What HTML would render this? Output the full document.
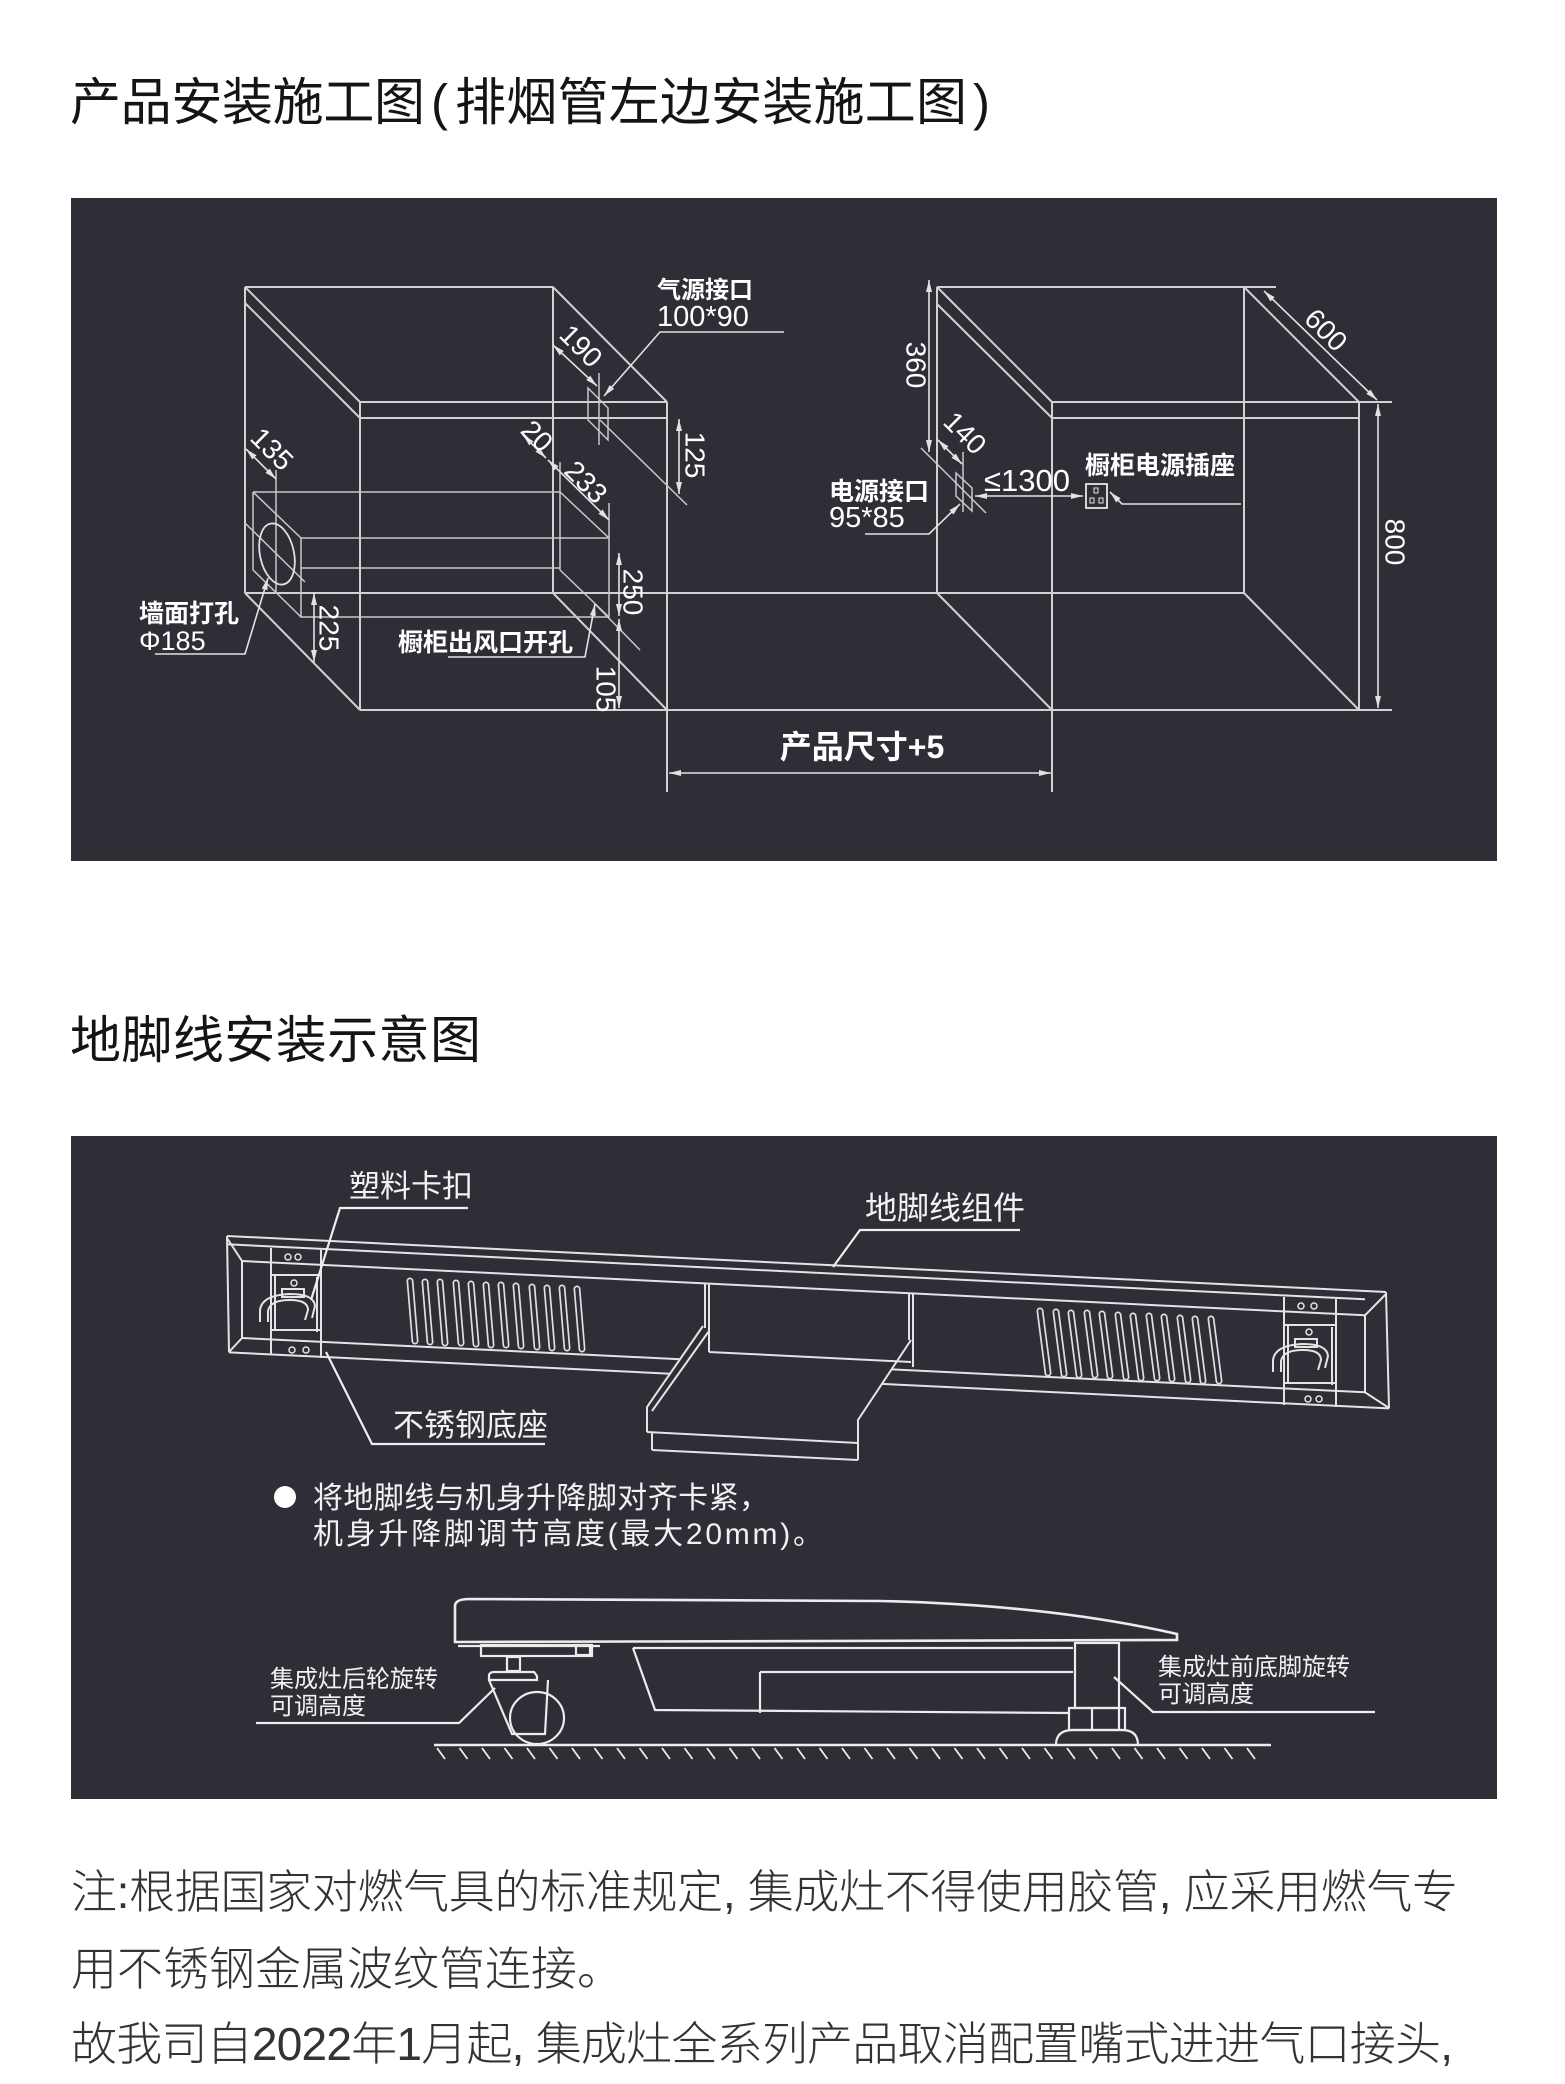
<!DOCTYPE html>
<html><head><meta charset="utf-8">
<style>
html,body{margin:0;padding:0;background:#fff;}
svg{display:block;}
text{font-family:"Liberation Sans","Noto Sans CJK SC",sans-serif;}
</style></head><body>
<svg width="1565" height="2084" viewBox="0 0 1565 2084" xmlns="http://www.w3.org/2000/svg">
<defs>
<marker id="a" viewBox="0 0 12 6" refX="12" refY="3" markerWidth="12" markerHeight="6" markerUnits="userSpaceOnUse" orient="auto-start-reverse"><path d="M0,0 L12,3 L0,6 z" fill="#e2e2e2"/></marker>
</defs>
<rect width="1565" height="2084" fill="#fff"/>

<!-- Title 1 -->
<text font-size="51" fill="#141414" y="120"><tspan x="70" textLength="355" lengthAdjust="spacing">产品安装施工图</tspan><tspan x="431">(</tspan><tspan x="455" textLength="512" lengthAdjust="spacing">排烟管左边安装施工图</tspan><tspan x="973">)</tspan></text>

<!-- Panel 1 -->
<rect x="71" y="198" width="1426" height="663" fill="#2e2e36"/>

<g stroke="#d2d2d2" stroke-width="2" fill="none">
<path d="M245,287H553 M245,287V593 M553,287V593 M245,593H1244 M245,287L360,402 M245,303L360,418 M360,402H667 M360,418H667 M360,402V710 M667,402V792 M360,710H1392 M245,593L360,710 M553,593L667,710 M553,287L667,402"/>
<path d="M937,287H1276 M937,287V593 M1244,287V593 M937,287L1052,402 M937,304L1052,418 M1052,402H1392 M1052,418H1359 M1052,402V792 M1359,402V710 M937,593L1052,710 M1244,593L1359,710 M1244,287L1359,402"/>
</g>
<g stroke="#c8c8c8" stroke-width="1.5" fill="none">
<path d="M253,492H560V570 M253,492V570 M253,492L301,538H609V617H301V538 M560,492L609,538 M253,570L301,617 M301,568H560 M560,570L609,617"/>
<path d="M276,470V592 M245,523L305,582 M594,603L640,650 M599,373V445 M600,420L687,505 M921,448L986,513 M963,452V512 M560,462V492 M609,503V538"/>
<path d="M588,388L608,408V440L588,420Z M956,473L972,488V511L956,496Z"/>
<ellipse cx="277" cy="554" rx="17" ry="31" transform="rotate(-12 277 554)" stroke="#e0e0e0" stroke-width="1.8"/>
<rect x="1086" y="484" width="21" height="24" stroke="#e6e6e6" stroke-width="1.8"/>
<rect x="1094" y="488" width="4" height="5" stroke="#e6e6e6" stroke-width="1"/>
<rect x="1090" y="498" width="4" height="5" stroke="#e6e6e6" stroke-width="1"/>
<rect x="1099" y="498" width="4" height="5" stroke="#e6e6e6" stroke-width="1"/>
</g>

<!-- dimension lines -->
<g stroke="#e2e2e2" stroke-width="1.6" fill="none" marker-start="url(#a)" marker-end="url(#a)">
<line x1="246" y1="449" x2="276" y2="479"/>
<line x1="314" y1="593" x2="314" y2="662"/>
<line x1="523" y1="435" x2="546" y2="458"/>
<line x1="548" y1="460" x2="609" y2="520"/>
<line x1="553" y1="345" x2="597" y2="386"/>
<line x1="679" y1="419" x2="679" y2="494"/>
<line x1="619" y1="553" x2="619" y2="616"/>
<line x1="619" y1="619" x2="619" y2="708"/>
<line x1="929" y1="280" x2="929" y2="452"/>
<line x1="938" y1="440" x2="962" y2="464"/>
<line x1="975" y1="496" x2="1083" y2="496"/>
<line x1="1264" y1="291" x2="1377" y2="400"/>
<line x1="1378" y1="404" x2="1378" y2="708"/>
<line x1="669" y1="773" x2="1051" y2="773"/>
</g>
<!-- leaders -->
<g stroke="#e2e2e2" stroke-width="1.6" fill="none" marker-end="url(#a)">
<path d="M155,654H245L268,578"/>
<path d="M448,657H585L595,604"/>
<path d="M784,332H660L604,396"/>
<path d="M865,534H929L960,504"/>
<path d="M1241,504H1122L1110,492"/>
</g>

<!-- top labels -->
<g fill="#ffffff">
<text x="657" y="298" font-size="24" font-weight="bold">气源接口</text>
<text x="657" y="326" font-size="29">100*90</text>
<text x="829" y="500" font-size="25" font-weight="bold">电源接口</text>
<text x="829" y="527" font-size="29">95*85</text>
<text x="1085" y="474" font-size="25" font-weight="bold">橱柜电源插座</text>
<text x="984" y="491" font-size="31">≤1300</text>
<text x="139" y="622" font-size="25" font-weight="bold">墙面打孔</text>
<text x="139" y="650" font-size="27">Φ185</text>
<text x="398" y="651" font-size="25" font-weight="bold">橱柜出风口开孔</text>
<text x="862" y="758" font-size="32" font-weight="bold" text-anchor="middle">产品尺寸+5</text>
</g>
<g fill="#ffffff" font-size="28" text-anchor="middle" dominant-baseline="central">
<text transform="translate(272,449) rotate(45)">135</text>
<text transform="translate(537,436) rotate(45)">20</text>
<text transform="translate(586,482) rotate(45)">233</text>
<text transform="translate(581,346) rotate(45)">190</text>
<text transform="translate(1326,330) rotate(45)">600</text>
<text transform="translate(965,433) rotate(45)">140</text>
<text transform="translate(695,455) rotate(90)">125</text>
<text transform="translate(633,592) rotate(90)">250</text>
<text transform="translate(606,689) rotate(90)">105</text>
<text transform="translate(329,628) rotate(90)">225</text>
<text transform="translate(916,365) rotate(90)">360</text>
<text transform="translate(1395,542) rotate(90)">800</text>
</g>

<!-- Title 2 -->
<text x="70" y="1058" font-size="51" fill="#141414" textLength="411" lengthAdjust="spacing">地脚线安装示意图</text>

<!-- Panel 2 -->
<rect x="71" y="1136" width="1426" height="663" fill="#2e2e36"/>

<g stroke="#e4e4e4" stroke-width="2" fill="none">
<path d="M227,1236L1386,1292 M227,1244.3L1365,1299.3 M242,1261L1365,1315.3 M242,1338L680,1359.2 M892,1369.4L1365,1392.3 M229,1352.4L670,1373.7 M882,1383.9L1389,1408.4"/>
<path d="M227,1236L229,1352.4 M242,1261V1338 M227,1238L242,1261 M229,1352L242,1338"/>
<path d="M1386,1292L1389,1408.4 M1365,1315.3V1392.3 M1386,1294L1365,1315.3 M1389,1408L1365,1392.3"/>
<path d="M271,1248V1355 M321,1250V1358 M275,1275V1330 M317,1277V1332 M271,1275H321 M271,1330H321"/>
<path d="M1284,1297V1405 M1336,1299V1407 M1288,1325V1383 M1332,1327V1385 M1284,1325H1336 M1284,1383H1336"/>
<path d="M260,1322V1310Q262,1295 290,1294Q314,1294 315,1306L312,1318 M268,1322V1311Q270,1300 290,1300Q308,1300 308,1310L305,1320 M282,1289H304V1297H282Z"/>
<path d="M1273,1372V1360Q1275,1345 1303,1344Q1327,1344 1328,1356L1325,1368 M1281,1372V1361Q1283,1350 1303,1350Q1321,1350 1321,1360L1318,1370 M1295,1339H1317V1347H1295Z"/>
<path d="M705,1283V1328 M709,1284V1352 M909,1293V1340 M913,1294V1367 M703,1326L647,1407V1432 M709,1331L652,1411 M911,1340L858,1420V1460 M647,1432L858,1443 M652,1450L858,1460 M652,1432V1450 M709,1352L911,1362"/>
</g>
<g stroke="#e4e4e4" stroke-width="1.5" fill="none">
<circle cx="288" cy="1257" r="3"/><circle cx="298" cy="1257" r="3"/><circle cx="294" cy="1283" r="3"/><circle cx="292" cy="1350" r="3"/><circle cx="306" cy="1350" r="3"/>
<circle cx="1301" cy="1306" r="3"/><circle cx="1314" cy="1306" r="3"/><circle cx="1309" cy="1332" r="3"/><circle cx="1308" cy="1399" r="3"/><circle cx="1319" cy="1399" r="3"/>
</g>
<g stroke="#e0e0e0" stroke-width="7" stroke-linecap="round">
<path d="M410,1281L415,1341 M425,1282L430,1342 M440,1282L445,1343 M456,1283L461,1343 M471,1284L476,1344 M486,1285L491,1345 M501,1285L506,1345 M516,1286L521,1346 M532,1287L537,1347 M547,1288L552,1348 M562,1288L567,1348 M577,1289L582,1349"/>
<path d="M1040,1311L1048,1373 M1056,1312L1064,1374 M1071,1313L1079,1375 M1087,1313L1095,1375 M1102,1314L1110,1376 M1118,1315L1126,1377 M1133,1316L1141,1378 M1149,1316L1157,1378 M1164,1317L1172,1379 M1180,1318L1188,1380 M1195,1319L1203,1381 M1211,1319L1219,1381"/>
</g>
<g stroke="#2e2e36" stroke-width="3.6" stroke-linecap="round">
<path d="M410,1281L415,1341 M425,1282L430,1342 M440,1282L445,1343 M456,1283L461,1343 M471,1284L476,1344 M486,1285L491,1345 M501,1285L506,1345 M516,1286L521,1346 M532,1287L537,1347 M547,1288L552,1348 M562,1288L567,1348 M577,1289L582,1349"/>
<path d="M1040,1311L1048,1373 M1056,1312L1064,1374 M1071,1313L1079,1375 M1087,1313L1095,1375 M1102,1314L1110,1376 M1118,1315L1126,1377 M1133,1316L1141,1378 M1149,1316L1157,1378 M1164,1317L1172,1379 M1180,1318L1188,1380 M1195,1319L1203,1381 M1211,1319L1219,1381"/>
</g>

<g stroke="#eeeeee" stroke-width="2.2" fill="none">
<path d="M468,1208H340L311,1300"/>
<path d="M1020,1230H860L833,1267"/>
<path d="M545,1444H372L326,1352"/>
<path d="M256,1723H459L495,1688"/>
<path d="M1375,1712H1153L1114,1677"/>
</g>
<g fill="#f2f2f2">
<text x="349" y="1197" font-size="31">塑料卡扣</text>
<text x="865" y="1219" font-size="32">地脚线组件</text>
<text x="393" y="1436" font-size="31">不锈钢底座</text>
<circle cx="285" cy="1497" r="11" fill="#ffffff"/>
<text x="313" y="1508" font-size="30" textLength="456" lengthAdjust="spacing">将地脚线与机身升降脚对齐卡紧，</text>
<text x="313" y="1544" font-size="30" textLength="510" lengthAdjust="spacing">机身升降脚调节高度(最大20mm)。</text>
<text x="270" y="1687" font-size="24">集成灶后轮旋转</text>
<text x="270" y="1714" font-size="24">可调高度</text>
<text x="1158" y="1675" font-size="24">集成灶前底脚旋转</text>
<text x="1158" y="1702" font-size="24">可调高度</text>
</g>

<g stroke="#ececec" stroke-width="2.2" fill="none">
<path d="M470,1599L880,1601Q1050,1605 1177,1634L1177,1640L455,1642L455,1606Q455,1599 470,1599Z" stroke-width="2.6"/>
<path d="M458,1646H600"/>
<rect x="481" y="1645" width="111" height="11"/>
<rect x="576" y="1645" width="14" height="10"/>
<rect x="507" y="1657" width="13" height="14"/>
<path d="M489,1680V1675Q490,1672 494,1672H534L537,1676V1680Z"/>
<path d="M489,1680L512,1734H545L548,1680"/>
<ellipse cx="537" cy="1718" rx="27" ry="26"/>
<path d="M633,1648H1073 M633,1648L655,1710L1069,1713 M760,1672H1073 M760,1672V1713"/>
<rect x="1075" y="1643" width="44" height="65"/>
<rect x="1069" y="1708" width="56" height="22"/>
<path d="M1092,1708V1730 M1119,1708V1730"/>
<path d="M1056,1745Q1056,1730 1073,1730H1122Q1138,1730 1138,1745"/>
<path d="M434,1745H1271" stroke-width="2.6"/>
<path stroke-width="1.8" d="M437,1748l8,11 M459.5,1748l8,11 M482,1748l8,11 M504.5,1748l8,11 M527,1748l8,11 M549.5,1748l8,11 M572,1748l8,11 M594.5,1748l8,11 M617,1748l8,11 M639.5,1748l8,11 M662,1748l8,11 M684.5,1748l8,11 M707,1748l8,11 M729.5,1748l8,11 M752,1748l8,11 M774.5,1748l8,11 M797,1748l8,11 M819.5,1748l8,11 M842,1748l8,11 M864.5,1748l8,11 M887,1748l8,11 M909.5,1748l8,11 M932,1748l8,11 M954.5,1748l8,11 M977,1748l8,11 M999.5,1748l8,11 M1022,1748l8,11 M1044.5,1748l8,11 M1067,1748l8,11 M1089.5,1748l8,11 M1112,1748l8,11 M1134.5,1748l8,11 M1157,1748l8,11 M1179.5,1748l8,11 M1202,1748l8,11 M1224.5,1748l8,11 M1247,1748l8,11"/>
</g>

<g fill="#333333" font-size="46" font-weight="300">
<text x="71" y="1908" textLength="1387" lengthAdjust="spacing">注:根据国家对燃气具的标准规定, 集成灶不得使用胶管, 应采用燃气专</text>
<text x="71" y="1985">用不锈钢金属波纹管连接。</text>
<text x="71" y="2060" textLength="1382" lengthAdjust="spacing">故我司自2022年1月起, 集成灶全系列产品取消配置嘴式进进气口接头,</text>
</g>
</svg>
</body></html>
